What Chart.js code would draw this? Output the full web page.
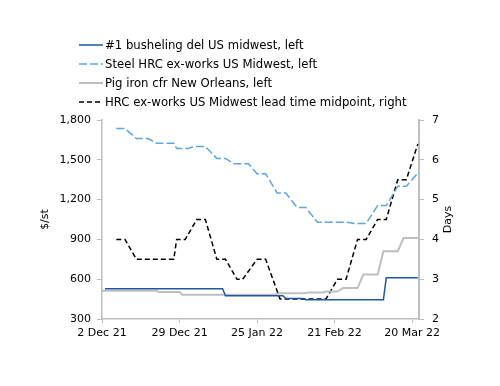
<!DOCTYPE html>
<html>
<head>
<meta charset="utf-8">
<script src="https://cdn.jsdelivr.net/npm/chart.js@4.4.0/dist/chart.umd.min.js"></script>
<style>
  html, body { margin: 0; padding: 0; background: #fff; }
  #canvas-container { width: 500px; height: 386px; }
</style>
</head>
<body>
<div id="canvas-container"><canvas id="myChart"></canvas></div>
<script>
// x values are days counted from 2 Dec 21
const tickDays = [0, 27, 54, 81, 108];
const tickLabels = ['2 Dec 21', '29 Dec 21', '25 Jan 22', '21 Feb 22', '20 Mar 22'];

const seriesNames = [
    '#1 busheling del US midwest, left',
    'Steel HRC ex-works US Midwest, left',
    'Pig iron cfr New Orleans, left',
    'HRC ex-works US Midwest lead time midpoint, right'
];

// $/st
const bushelingDays = [1, 42, 43, 63, 64, 70, 71, 98, 99, 110];
const bushelingVals = [528, 528, 475, 475, 455, 455, 445, 445, 610, 610];

// $/st
const hrcDays = [5, 8, 12, 16, 19, 25, 26, 30, 32, 36, 40, 43, 46, 51, 54, 57, 61, 64, 68, 71, 75, 85, 88, 92, 96, 99, 103, 106, 110];
const hrcVals = [1735, 1735, 1660, 1660, 1625, 1625, 1585, 1585, 1600, 1600, 1510, 1510, 1470, 1470, 1395, 1395,
                 1250, 1250, 1140, 1140, 1030, 1030, 1020, 1020, 1155, 1155, 1300, 1300, 1400];

// $/st
const pigIronDays = [0, 19, 20, 27, 28, 60, 62, 70, 72, 77, 78, 82, 84, 89, 91, 96, 98, 103, 105, 110];
const pigIronVals = [513, 513, 503, 503, 483, 483, 495, 495, 500, 500, 507, 507, 533, 533, 635, 635, 810, 810, 910, 910];

// days, right axis
const leadDays = [5, 8, 12, 25, 26, 29, 33, 36, 40, 43, 47, 49, 54, 57, 62, 78, 82, 85, 89, 92, 96, 99, 103, 106, 110];
const leadVals = [4, 4, 3.5, 3.5, 4, 4, 4.5, 4.5, 3.5, 3.5, 3, 3, 3.5, 3.5, 2.5, 2.5, 3, 3, 4, 4, 4.5, 4.5, 5.5, 5.5, 6.4];

const toPoints = (days, vals) => days.map((d, i) => ({ x: d, y: vals[i] }));

const axisGrey = '#bfbfbf';

// legend stacked one item per row, top left
const stackLegend = {
    id: 'stackLegend',
    afterDraw: (chart) => {
        const ctx = chart.ctx;
        ctx.save();
        ctx.font = '11.7px "DejaVu Sans"';
        ctx.textBaseline = 'middle';
        chart.data.datasets.forEach((ds, i) => {
            const y = 45 + i * 19;
            ctx.beginPath();
            ctx.strokeStyle = ds.borderColor;
            ctx.lineWidth = ds.borderWidth;
            ctx.setLineDash(ds.borderDash || []);
            ctx.moveTo(79, y);
            ctx.lineTo(103, y);
            ctx.stroke();
            ctx.setLineDash([]);
            ctx.fillStyle = '#000';
            ctx.fillText(ds.label, 105, y + 1);
        });
        // right axis title reads bottom to top like the left one
        ctx.font = '11px "DejaVu Sans"';
        const area = chart.chartArea;
        ctx.translate(area.right + 29, (area.top + area.bottom) / 2);
        ctx.rotate(-Math.PI / 2);
        ctx.textAlign = 'center';
        ctx.fillText('Days', 0, 0);
        ctx.restore();
    }
};

window.onload = () => {
    Chart.defaults.font.family = '"DejaVu Sans"';
    Chart.defaults.font.size = 11;
    Chart.defaults.color = '#000';

    const data = {
        datasets: [
            {
                label: seriesNames[0],
                data: toPoints(bushelingDays, bushelingVals),
                borderColor: '#2156a4',
                borderWidth: 1.5,
                yAxisID: 'y'
            },
            {
                label: seriesNames[1],
                data: toPoints(hrcDays, hrcVals),
                borderColor: '#5ea6e4',
                borderWidth: 1.5,
                borderDash: [8, 3],
                yAxisID: 'y'
            },
            {
                label: seriesNames[2],
                data: toPoints(pigIronDays, pigIronVals),
                borderColor: '#bfbfbf',
                borderWidth: 2,
                yAxisID: 'y'
            },
            {
                label: seriesNames[3],
                data: toPoints(leadDays, leadVals),
                borderColor: '#000',
                borderWidth: 1.5,
                borderDash: [5, 3],
                yAxisID: 'y1'
            }
        ]
    };

    const config = {
        type: 'line',
        data: data,
        options: {
            responsive: false,
            animation: false,
            layout: { padding: { top: 120, left: 0, right: 0, bottom: 0 } },
            elements: { point: { radius: 0 }, line: { tension: 0 } },
            plugins: { legend: { display: false }, tooltip: { enabled: false } },
            scales: {
                x: {
                    type: 'linear',
                    min: 0,
                    max: 110.4,
                    afterBuildTicks: (s) => { s.ticks = tickDays.map(v => ({ value: v })); },
                    afterFit: (s) => { s.height = 67; },
                    ticks: {
                        autoSkip: false,
                        maxRotation: 0,
                        padding: 4,
                        callback: (v) => tickLabels[tickDays.indexOf(v)]
                    },
                    grid: { drawOnChartArea: false, color: axisGrey, tickLength: 4 },
                    border: { color: axisGrey, width: 1.5 }
                },
                y: {
                    position: 'left',
                    min: 300,
                    max: 1800,
                    afterFit: (s) => { s.width = 102; },
                    ticks: {
                        stepSize: 300,
                        padding: 6,
                        callback: (v) => v.toLocaleString('en-US')
                    },
                    title: { display: true, text: '$/st', padding: { top: 39, bottom: 0 } },
                    grid: { drawOnChartArea: false, color: axisGrey, tickLength: 5 },
                    border: { color: axisGrey, width: 1.5 }
                },
                y1: {
                    position: 'right',
                    min: 2,
                    max: 7,
                    afterFit: (s) => { s.width = 81; },
                    ticks: { stepSize: 1, padding: 8 },
                    grid: { drawOnChartArea: false, color: axisGrey, tickLength: 5 },
                    border: { color: axisGrey, width: 2 }
                }
            }
        },
        plugins: [stackLegend]
    };

    const canvas = document.getElementById('myChart');
    canvas.width = 500;
    canvas.height = 386;
    new Chart(canvas, config);
};
</script>
</body>
</html>
